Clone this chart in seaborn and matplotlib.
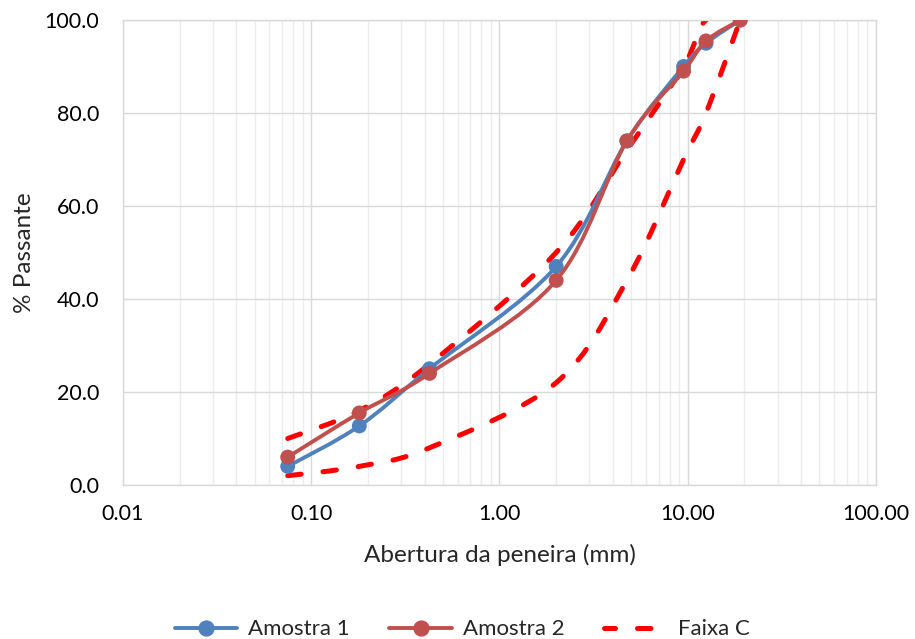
import numpy as np
import matplotlib
matplotlib.use("Agg")
import matplotlib.pyplot as plt
from matplotlib.path import Path
from matplotlib.patches import PathPatch
from matplotlib.lines import Line2D
import seaborn as sns
import pandas as pd

# Sieve openings (mm) and percent passing
peneiras = [0.075, 0.18, 0.425, 2.0, 4.75, 9.5, 12.5, 19.0]
amostra_1 = [4.0, 12.7, 25.0, 47.0, 74.0, 90.0, 95.0, 100.0]
amostra_2 = [6.0, 15.5, 24.0, 44.0, 74.0, 89.0, 95.5, 100.0]
faixa_c_sup = [10.0, 16.0, 26.0, 50.0, 72.0, 90.0, 100.0, 100.0]
faixa_c_inf = [2.0, 4.0, 8.0, 22.0, 44.0, 70.0, 80.0, 100.0]

COR_1 = "#4F81BD"
COR_2 = "#C0504D"
COR_C = "#FF0000"
TRACO = (0, (2.7, 4.4))

sns.set_theme(style="white")
plt.rcParams["font.family"] = ["Lato", "DejaVu Sans"]


def smooth_path(xs, ys):
    """Cubic Bezier path through the points (Catmull-Rom tangents in log-x space)."""
    lx = np.log10(np.asarray(xs, float))
    y = np.asarray(ys, float)
    pts = np.column_stack([lx, y])
    n = len(pts)
    verts = [pts[0]]
    codes = [Path.MOVETO]
    for i in range(n - 1):
        p0 = pts[max(i - 1, 0)]
        p1 = pts[i]
        p2 = pts[i + 1]
        p3 = pts[min(i + 2, n - 1)]
        c1 = p1 + (p2 - p0) / 6.0
        c2 = p2 - (p3 - p1) / 6.0
        verts += [c1, c2, p2]
        codes += [Path.CURVE4] * 3
    verts = np.array(verts)
    verts[:, 0] = 10 ** verts[:, 0]
    return Path(verts, codes)


fig, ax = plt.subplots(figsize=(9.15, 6.39), dpi=100)
fig.subplots_adjust(left=0.1344, right=0.9574, top=0.9687, bottom=0.241)

ax.set_xscale("log")
ax.set_xlim(0.01, 100)
ax.set_ylim(0, 100)

# Grid
ax.set_axisbelow(True)
ax.grid(which="major", axis="both", color="#D9D9D9", linewidth=1.0)
ax.grid(which="minor", axis="x", color="#EDEDED", linewidth=1.0)
ax.minorticks_on()
ax.yaxis.set_minor_locator(matplotlib.ticker.NullLocator())
for s in ax.spines.values():
    s.set_color("#D9D9D9")
    s.set_linewidth(1.0)

# Grading band (dashed)
for serie in (faixa_c_sup, faixa_c_inf):
    ax.add_patch(PathPatch(smooth_path(peneiras, serie), fill=False,
                           edgecolor=COR_C, linewidth=3.6,
                           linestyle=TRACO, capstyle="round", zorder=2))

# Samples: smooth lines + markers
df = pd.DataFrame({
    "peneira": peneiras * 2,
    "passante": amostra_1 + amostra_2,
    "serie": ["Amostra 1"] * len(peneiras) + ["Amostra 2"] * len(peneiras),
})
for vals, cor, z in ((amostra_1, COR_1, 3), (amostra_2, COR_2, 4)):
    ax.add_patch(PathPatch(smooth_path(peneiras, vals), fill=False,
                           edgecolor=cor, linewidth=2.8, zorder=z))
sns.scatterplot(data=df[df.serie == "Amostra 1"], x="peneira", y="passante",
                color=COR_1, s=115, edgecolor="none", ax=ax, zorder=3.5, legend=False)
sns.scatterplot(data=df[df.serie == "Amostra 2"], x="peneira", y="passante",
                color=COR_2, s=115, edgecolor="none", ax=ax, zorder=4.5, legend=False)

# Ticks and labels
ax.set_xticks([0.01, 0.1, 1, 10, 100])
ax.set_xticklabels(["0.01", "0.10", "1.00", "10.00", "100.00"])
ax.set_yticks(np.arange(0, 101, 20))
ax.set_yticklabels([f"{v:.1f}" for v in np.arange(0, 101, 20)])
ax.tick_params(axis="both", which="both", length=0, labelsize=15.5, colors="#000000")
ax.tick_params(axis="y", pad=17)
ax.tick_params(axis="x", pad=14)
ax.set_xlabel("Abertura da peneira (mm)", fontsize=17.5, labelpad=14)
ax.set_ylabel("% Passante", fontsize=17.5, labelpad=7)

handles = [
    Line2D([], [], color=COR_1, lw=2.8, marker="o", markersize=10.7),
    Line2D([], [], color=COR_2, lw=2.8, marker="o", markersize=10.7),
    Line2D([], [], color=COR_C, lw=3.6, linestyle=(0.5, (2.7, 4.4)),
           dash_capstyle="round"),
]
fig.legend(handles, ["Amostra 1", "Amostra 2", "Faixa C"], loc="lower center",
           bbox_to_anchor=(0.505, -0.032), ncol=3, frameon=False, fontsize=16,
           handlelength=2.8, columnspacing=1.8, handletextpad=0.5)

fig.savefig("out.png", dpi=100, facecolor="white")
